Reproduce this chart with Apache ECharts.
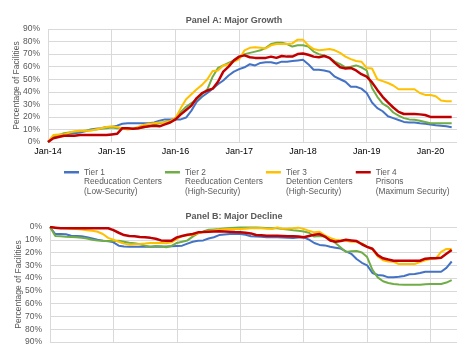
<!DOCTYPE html>
<html><head><meta charset="utf-8">
<script src="https://cdn.jsdelivr.net/npm/echarts@6/dist/echarts.min.js"></script>
<style>html,body{margin:0;padding:0;background:#fff}#c{width:468px;height:363px}</style>
</head><body><div id="c"></div><script>
// ---- data ----
const monthNames = ['Jan','Feb','Mar','Apr','May','Jun','Jul','Aug','Sep','Oct','Nov','Dec'];
const months = [];
for (let y = 14; y <= 20; y++) { for (let m = 0; m < 12; m++) { if (y === 20 && m > 5) break; months.push(monthNames[m] + '-' + y); } }

const seriesNames = [
  'Tier 1\nReeducation Centers\n(Low-Security)',
  'Tier 2\nReeducation Centers\n(High-Security)',
  'Tier 3\nDetention Centers\n(High-Security)',
  'Tier 4\nPrisons\n(Maximum Security)'
];
const seriesColors = ['#4472C4', '#70AD47', '#FFC000', '#C00000'];
const panelTitles = ['Panel A: Major Growth', 'Panel B: Major Decline'];
const yAxisTitle = 'Percentage of Facilities';

// Panel A: Major Growth (% of facilities), monthly Jan-14 .. May-20
const growthTier1 = [0,4,5,6,6.5,7,7.5,8.5,10,10.5,11,12,
  12,13,14.5,15,15,15,15,15,15.5,17,18,18,
  18,18,19.5,25,32,36,39,42.5,46,49,53,56,
  58,59.5,62,61,63,63.5,63.5,62.5,64,64,64.5,65,
  65.5,62,57.5,57.5,57,56,52,50,48,44,44,42.5,
  39,31.5,27,24.5,20.5,19,17.5,16,15.6,15.6,15,14.5,
  14,13.3,13,12.5,11.7];
const growthTier2 = [0,4,5.5,7,7.5,8,8.5,9,9.5,10,10.5,11,
  11.5,11,11,10.5,10.5,11,11.5,12.5,14,15,16,17,
  19,24,28,31,34,38,42,52,59,61,63,65,
  68,70,71,72,73,75,78,79,79,78,76,77,
  77,76,72,70,69,67,64,62,59.5,60,61,59.5,
  57,43,36,30.5,28,23.5,21,19,18,17.8,17,16,
  15,15,15,15,15];
const growthTier3 = [0,5.5,6,6,7.5,8.5,9,9,9,10,11,12,
  12.5,12,11,10,10.5,12,13.5,14.5,15,15.5,15.5,16.5,
  19,27,34,38,42,45.5,50,56.5,57,61,62,64,
  66,73,75,75.5,75,74.5,77,78,78,78,78.5,81.5,
  81.5,77,74,73,73.5,74,73,71,68,66,64.5,64,
  59,58.5,50,48.5,47,45,42,42,42,42,39,37.5,
  37.5,36.5,33,32.5,32.5];
const growthTier4 = [0,3,4,5,5,5,5.5,5.5,5.5,5.5,5.5,5.5,
  6,6.5,11,11,10.5,11,12,12.5,13,12.5,14,15.5,
  18,22,25.5,29,35,39,41,42.5,48,56,60,65,
  68,69,67.5,67,67,67,68,67,68.5,68,68,70,
  70.5,69.5,68,67.5,68.5,67,63,59.5,58.5,59,57,54,
  52,47.5,41.5,36,31.5,27.5,24,22.3,22.3,22.3,22,21.5,
  20,20,20,20,20];

// Panel B: Major Decline (% of facilities), monthly Jan-14 .. May-20
const declineTier1 = [0,5.5,5.5,5.7,6.8,7,7.3,8,9,10,10.7,11,
  12,14.6,15.2,15.4,15.4,15.4,15.4,15.4,15.4,15.4,15.2,15,
  14.8,14.6,13,11.5,10.8,10.5,9,8,6.3,5.8,5.5,5.5,
  5.5,6,7.2,7.5,7.6,8,8.1,8.1,8.3,8.5,8.6,8.3,
  8.1,9.9,12.5,14,14.4,15.5,16.2,16.9,19,21,25,28,
  30,36,37.6,38,39.4,39.4,39,38.4,37,36.8,36,35,
  35,35,35,32,27];
const declineTier2 = [0,7,7.3,7.6,7.8,8.1,8.5,9,10,10.5,10.8,11.2,
  10.9,10.7,11.5,12.3,12.8,13.5,14.6,15.4,14.8,15,15.9,14.8,
  12.5,11.5,10.5,7.5,5,3.5,2.2,1.9,1.6,1.2,0.8,0.5,
  0.3,0.3,0.3,0.3,0.5,0.7,0.9,1,1.5,2,2.5,2.9,
  3.5,4.5,7.5,7,7.5,9,12.5,16,19.5,19,18.8,20,
  23.5,33.5,39.4,42.5,43.8,44.6,45,45.2,45.2,45.2,45.2,44.8,
  44.6,44.6,44.6,43.5,41.5];
const declineTier3 = [0,0.5,0.8,1,1.3,1.6,2,2.5,3,3.7,5.5,8.5,
  10,11.5,13,13.8,13.5,13.3,13,12.5,12.5,12.5,12.8,12,
  9.4,7,6.5,6.3,5,4,3.2,2.7,2.2,1.8,1.6,1.6,
  1.6,1.3,1,1,1,1.3,1.6,0.3,1.3,1.2,1,0.5,
  1.5,3,4.2,3.7,6.5,8.5,9.9,10.3,10.7,11.5,11.5,12.8,
  15.5,17.5,23,26,27,27.2,29,29,29,29,27.5,26,
  25,24.5,19.5,17.2,17.2];
const declineTier4 = [0,0.5,1,1,1,1,1,1,1,1,1,1,
  2.5,4.5,6.3,7,7.3,7.8,8.1,8.5,9.2,10.5,10.7,10.7,
  8.1,7,6,5.5,4.2,4,3.7,3.5,3.4,3.5,3.7,4,
  4.2,4.5,5,6.3,6.5,6.8,6.8,6.8,7,7.3,7.3,7.5,
  8,7,6,5.5,7.5,10.5,11.5,11,10,10.5,11,13.5,
  15.5,17,22,24.5,25.5,26.4,26.4,26.4,26.4,26.4,26.4,24.8,
  24.5,24.5,24,21,18];

const growth = [growthTier1, growthTier2, growthTier3, growthTier4];
const decline = [declineTier1, declineTier2, declineTier3, declineTier4];

// ---- chart ----
const FONT = 'Arial, "Liberation Sans", sans-serif';
const GRID_C = '#d9d9d9';
const yearTick = (i) => i % 12 === 0;

function xAxis(gi, showLabels) {
  return {
    type: 'category', gridIndex: gi, data: months, boundaryGap: false,
    axisLine: { show: false }, axisTick: { show: false },
    axisLabel: { show: showLabels, interval: yearTick, fontSize: 9, color: '#000', margin: 5, fontFamily: FONT },
    splitLine: { show: true, interval: yearTick, lineStyle: { color: GRID_C, width: 1 } }
  };
}
function yAxis(gi, inverse) {
  return {
    type: 'value', gridIndex: gi, min: 0, max: 90, interval: 10, inverse: inverse,
    name: yAxisTitle, nameLocation: 'middle', nameGap: 27, nameMoveOverlap: false,
    nameTextStyle: { fontSize: 8.5, color: '#595959', fontFamily: FONT },
    axisLine: { show: false }, axisTick: { show: false },
    axisLabel: { formatter: '{value}%', fontSize: 8.5, color: '#595959', margin: 8, fontFamily: FONT },
    splitLine: { show: true, lineStyle: { color: GRID_C, width: 1 } }
  };
}
const series = [];
[growth, decline].forEach((set, gi) => {
  set.forEach((vals, k) => {
    series.push({
      type: 'line', name: seriesNames[k], xAxisIndex: gi, yAxisIndex: gi,
      data: vals, symbol: 'none', showSymbol: false,
      lineStyle: { color: seriesColors[k], width: k === 3 ? 2.5 : 2 },
      itemStyle: { color: seriesColors[k] }
    });
  });
});

const chart = echarts.init(document.getElementById('c'), null, { renderer: 'canvas' });
chart.setOption({
  animation: false,
  textStyle: { fontFamily: FONT },
  title: [
    { text: panelTitles[0], left: 'center', top: 16, padding: 0, textStyle: { fontSize: 9, fontWeight: 'bold', color: '#595959', fontFamily: FONT } },
    { text: panelTitles[1], left: 'center', top: 212, padding: 0, textStyle: { fontSize: 9, fontWeight: 'bold', color: '#595959', fontFamily: FONT } }
  ],
  legend: {
    data: seriesNames, left: 64, top: 148, padding: 0, itemGap: 3, itemWidth: 15, itemHeight: 2.5,
    icon: 'rect',
    formatter: (n) => '\n\n' + n,
    textStyle: { fontSize: 8.3, color: '#595959', lineHeight: 9.7, fontFamily: FONT }
  },
  grid: [
    { left: 48, right: 11, top: 29, height: 113, containLabel: false, outerBoundsMode: 'none' },
    { left: 50, right: 11, top: 227, height: 115, containLabel: false, outerBoundsMode: 'none' }
  ],
  xAxis: [xAxis(0, true), xAxis(1, false)],
  yAxis: [yAxis(0, false), yAxis(1, true)],
  series: series
});
</script></body></html>
